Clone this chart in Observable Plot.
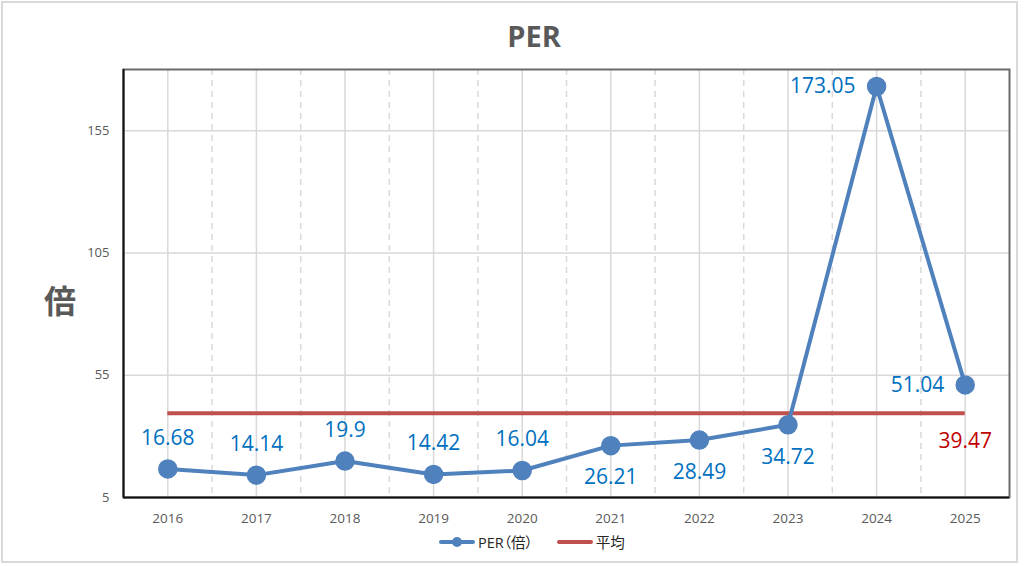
<!DOCTYPE html>
<html>
<head>
<meta charset="utf-8">
<script src="https://cdn.jsdelivr.net/npm/d3@7"></script>
<script src="https://cdn.jsdelivr.net/npm/@observablehq/plot@0.6"></script>
<style>
  html, body { margin: 0; padding: 0; background: #fff; }
  #wrap { position: relative; width: 1024px; height: 566px; overflow: hidden;
          font-family: "Open Sans", "Noto Sans CJK JP", sans-serif; }
  #border { position: absolute; left: 1px; top: 1px; width: 1013px; height: 558px;
            border: 2px solid #d9d9d9; pointer-events: none; }
  #chart { position: absolute; left: 0; top: 0; }
  #title { position: absolute; left: 0; width: 1068px; top: 16px; text-align: center;
           font-size: 29px; font-weight: bold; color: #595959; }
  #ylabel { position: absolute; left: 44px; top: 276px; font-size: 32px; font-weight: bold;
            color: #595959; font-family: "Noto Sans CJK JP", sans-serif; }
  #legend { position: absolute; left: 439px; top: 531px; display: flex; align-items: center;
            font-size: 14.5px; color: #262626; font-family: "Open Sans", "Noto Sans CJK JP", sans-serif;
            font-feature-settings: "palt"; }
  .sw { position: relative; width: 36px; height: 20px; margin-right: 3px; }
  .sw .ln { position: absolute; left: 0; right: 0; top: 8px; height: 4px; border-radius: 2px; }
  .sw .dt { position: absolute; left: 13px; top: 5px; width: 10px; height: 10px; border-radius: 50%; }
  .item { display: flex; align-items: center; margin-right: 24px; }
</style>
</head>
<body>
<div id="wrap">
  <div id="chart"></div>
  <div id="title">PER</div>
  <div id="ylabel">倍</div>
  <div id="legend"></div>
  <div id="border"></div>
</div>
<script>
// ---- data ----
const years = [2016, 2017, 2018, 2019, 2020, 2021, 2022, 2023, 2024, 2025];
const perValues = [16.68, 14.14, 19.9, 14.42, 16.04, 26.21, 28.49, 34.72, 173.05, 51.04];
const averageValue = 39.47;
const yTicks = [5, 55, 105, 155];
const yDomain = [5, 180];
const seriesNames = ["PER（倍）", "平均"];

// ---- derived tables ----
const blue = "#4F81BD", labelBlue = "#0070C0", red = "#C0504D", labelRed = "#C00000";
const rows = years.map((year, i) => ({year, per: perValues[i]}));
const xDomain = [years[0] - 0.5, years[years.length - 1] + 0.5];
const boundaries = years.slice(1).map(y => y - 0.5);
const above = rows.filter(d => d.per < 20);
const below = rows.filter(d => d.per >= 20 && d.per < 50);
const left = rows.filter(d => d.per >= 50);
const avgRow = [{year: years[years.length - 1], avg: averageValue}];

const chart = Plot.plot({
  width: 1024,
  height: 566,
  marginTop: 69,
  marginBottom: 69,
  marginLeft: 123,
  marginRight: 15,
  style: {fontFamily: "'Open Sans', sans-serif", fontSize: "13.5px", color: "#595959", background: "transparent"},
  x: {type: "linear", domain: xDomain},
  y: {domain: yDomain},
  marks: [
    Plot.gridY(yTicks.slice(1), {stroke: "#d9d9d9", strokeOpacity: 1, strokeWidth: 1.5}),
    Plot.ruleX(years, {stroke: "#d9d9d9", strokeWidth: 1.5}),
    Plot.ruleX(boundaries, {stroke: "#d9d9d9", strokeWidth: 1.5, strokeDasharray: "6,5"}),
    Plot.frame({stroke: "#6b6b6b", strokeWidth: 2}),
    Plot.ruleX([xDomain[0]], {stroke: "#111", strokeWidth: 2}),
    Plot.ruleY([yDomain[0]], {stroke: "#111", strokeWidth: 2}),
    Plot.axisY({ticks: yTicks, tickSize: 0, tickPadding: 14, label: null, fontSize: 13}),
    Plot.axisX({ticks: years, tickFormat: d => String(d), tickSize: 0, tickPadding: 16, label: null}),
    Plot.ruleY([averageValue], {x1: years[0], x2: years[years.length - 1], stroke: red, strokeWidth: 4}),
    Plot.line(rows, {x: "year", y: "per", stroke: blue, strokeWidth: 4}),
    Plot.dot(rows, {x: "year", y: "per", r: 9, fill: blue, stroke: blue}),
    Plot.text(above, {x: "year", y: "per", text: d => String(d.per), dy: -31, fill: labelBlue, fontSize: 21}),
    Plot.text(below, {x: "year", y: "per", text: d => String(d.per), dy: 32, fill: labelBlue, fontSize: 21}),
    Plot.text(left, {x: "year", y: "per", text: d => String(d.per), dx: -21, textAnchor: "end", fill: labelBlue, fontSize: 21}),
    Plot.text(avgRow, {x: "year", y: "avg", text: d => d.avg.toFixed(2), dy: 28, fill: labelRed, fontSize: 21})
  ]
});
document.getElementById("chart").appendChild(chart);

// legend
const legend = document.getElementById("legend");
legend.innerHTML =
  `<div class="item"><div class="sw"><div class="ln" style="background:${blue}"></div><div class="dt" style="background:${blue}"></div></div><span>${seriesNames[0]}</span></div>` +
  `<div class="item"><div class="sw"><div class="ln" style="background:${red}"></div></div><span>${seriesNames[1]}</span></div>`;
</script>
</body>
</html>
